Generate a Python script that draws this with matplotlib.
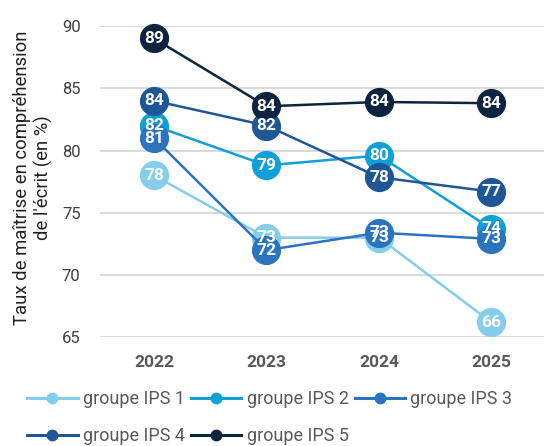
import matplotlib
matplotlib.use("Agg")
import matplotlib.pyplot as plt
from matplotlib.lines import Line2D

years = ["2022", "2023", "2024", "2025"]
series_names = ["groupe IPS 1", "groupe IPS 2", "groupe IPS 3", "groupe IPS 4", "groupe IPS 5"]
ips1 = [78.0, 73.0, 73.0, 66.2]
ips2 = [82.0, 78.8, 79.6, 73.7]
ips3 = [81.0, 72.0, 73.4, 72.9]
ips4 = [84.0, 82.0, 77.85, 76.7]
ips5 = [89.0, 83.55, 83.9, 83.8]
values = [ips1, ips2, ips3, ips4, ips5]
colors = ["#84CDEB", "#0EA0D6", "#2A73BF", "#1F5796", "#0D2440"]

plt.rcParams['font.family'] = ['Roboto', 'DejaVu Sans']

fig = plt.figure(figsize=(5.44, 4.46), dpi=100)
ax = fig.add_axes([100/544, 1-337.3/446, 444/544, (337.3-26)/446])

x = list(range(len(years)))
for i, (name, vals, c) in enumerate(zip(series_names, values, colors)):
    z = 3 + i
    ax.plot(x, vals, color=c, lw=1.8, marker='o', ms=20, mec=c, mfc=c,
            zorder=z, clip_on=False, label=name)
    for xi, v in zip(x, vals):
        ax.text(xi, v, f"{round(v):d}", color="white", ha="center", va="center",
                fontsize=12.5, fontweight="bold", zorder=20 + i)

ax.set_xlim(-0.48, 3.467)
ax.set_ylim(65, 90)
ax.set_yticks([65, 70, 75, 80, 85, 90])
ax.set_xticks(x)
ax.set_xticklabels(years, fontweight="bold", color="#595959", fontsize=12.5)
ax.tick_params(axis='y', length=0, pad=14, labelsize=12, labelcolor="#404040")
ax.tick_params(axis='x', length=0, pad=13)
ax.grid(axis='y', color="#d9d9d9", lw=1.4)
ax.set_axisbelow(True)
for s in ax.spines.values():
    s.set_visible(False)

fig.text(33/544, 1-178/446, "Taux de maîtrise en compréhension\nde l'écrit (en %)",
         rotation=90, ha="center", va="center", fontsize=13.3, color="#222222",
         linespacing=1.15)

handles = [Line2D([0], [0], color=c, lw=2.2, marker='o', ms=7.5, mfc=c, mec=c)
           for c in colors]
order = [0, 3, 1, 4, 2]
leg = fig.legend([handles[k] for k in order], [series_names[k] for k in order],
                 loc="upper left", bbox_to_anchor=(27/544, 1-390/446),
                 ncol=3, frameon=False, fontsize=13, handlelength=2.8,
                 handletextpad=0.28, columnspacing=0.35, labelspacing=1.05,
                 borderaxespad=0, borderpad=0)
for t in leg.get_texts():
    t.set_color("#595959")

fig.savefig("out.png", dpi=100)
